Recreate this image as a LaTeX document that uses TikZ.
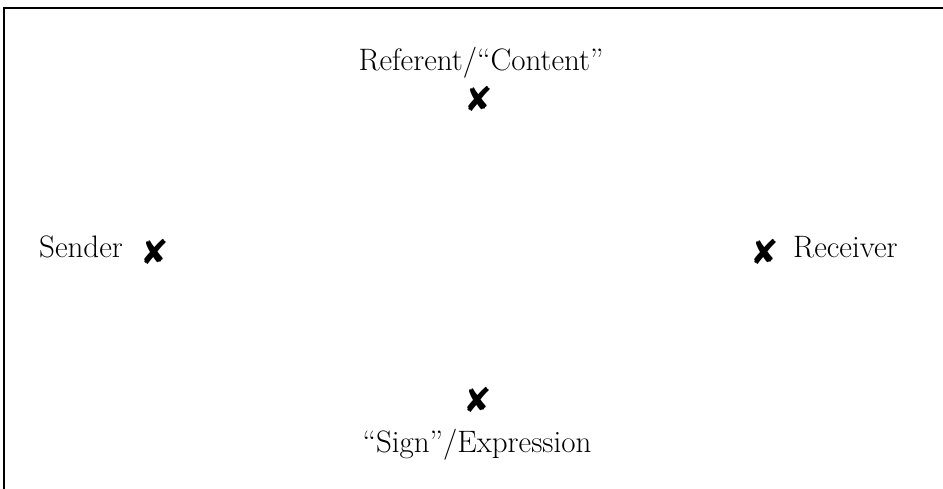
\documentclass[tikz,border=0pt]{standalone}
\usepackage{fontspec}
\newfontfamily\symfont{DejaVu Sans}
\begin{document}
\begin{tikzpicture}[x=1pt,y=-1pt,
  lbl/.style={inner sep=0pt,anchor=base,font=\fontsize{31}{34}\selectfont},
  xmark/.style={inner sep=0pt,font=\symfont\fontsize{34}{36}\selectfont}]
\useasboundingbox (0,0) rectangle (943,489);
\draw[line width=1.2pt] (943,8) -- (4,8) -- (4,489);
\node[lbl] (ref) at (481,71) {Referent/“Content”};
\node[xmark] (xref) at (479,99) {✘};
\node[lbl,anchor=base west] (snd) at (39,258) {Sender};
\node[xmark] (xsnd) at (155,252) {✘};
\node[xmark] (xrcv) at (765,252) {✘};
\node[lbl,anchor=base west] (rcv) at (793,258) {Receiver};
\node[xmark] (xsig) at (478,400) {✘};
\node[lbl] (sig) at (477,452) {“Sign”/Expression};
\end{tikzpicture}
\end{document}
